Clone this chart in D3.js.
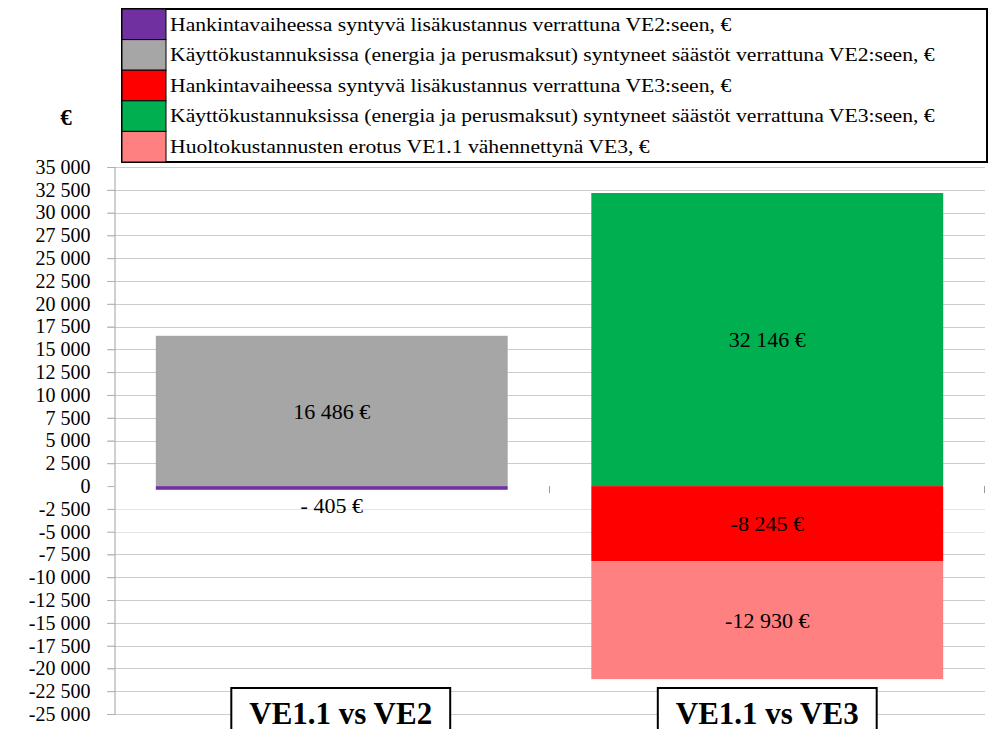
<!DOCTYPE html>
<html>
<head>
<meta charset="utf-8">
<script src="https://cdn.jsdelivr.net/npm/d3@7/dist/d3.min.js"></script>
<style>
  html, body { margin: 0; padding: 0; background: #fff; }
  svg { display: block; }
  svg text { font-family: "Liberation Serif", "Times New Roman", Times, "DejaVu Serif", serif !important; }
</style>
</head>
<body>
<svg id="chart" width="989" height="729"></svg>
<script>
// ---------------- data ----------------
const categories = ["VE1.1 vs VE2", "VE1.1 vs VE3"];
const seriesNames = [
  "Hankintavaiheessa syntyvä lisäkustannus verrattuna VE2:seen, €",
  "Käyttökustannuksissa (energia ja perusmaksut) syntyneet säästöt verrattuna VE2:seen, €",
  "Hankintavaiheessa syntyvä lisäkustannus verrattuna VE3:seen, €",
  "Käyttökustannuksissa (energia ja perusmaksut) syntyneet säästöt verrattuna VE3:seen, €",
  "Huoltokustannusten erotus VE1.1 vähennettynä VE3, €"
];
const seriesColors = ["#7030a0", "#a6a6a6", "#ff0000", "#00b050", "#ff8080"];
const hankintaVE2 = [-405, 0];
const kayttoVE2   = [16486, 0];
const hankintaVE3 = [0, -8245];
const kayttoVE3   = [0, 32146];
const huolto      = [0, -12930];
const seriesValues = [hankintaVE2, kayttoVE2, hankintaVE3, kayttoVE3, huolto];
const yTicks = d3.range(-25000, 35001, 2500);
const yUnit = "€";

// ---------------- setup ----------------
const FONT = "'Liberation Serif', 'Times New Roman', Times, 'DejaVu Serif', serif";
const svg = d3.select("#chart").attr("font-family", FONT);
const plot = { left: 114, right: 985, top: 167, bottom: 714 };

const locale = d3.formatLocale({ decimal: ",", thousands: " ", grouping: [3], currency: ["", " €"], minus: "-" });
const fmt = locale.format(",");

const x = d3.scaleBand().domain(categories).range([plot.left, plot.right])
  .paddingInner(0.192).paddingOuter(0.096);
const y = d3.scaleLinear().domain([yTicks[0], yTicks[yTicks.length - 1]]).range([plot.bottom, plot.top]);

// table for stacking
const table = categories.map((c, i) => {
  const row = { cat: c };
  seriesNames.forEach((s, k) => row[k] = seriesValues[k][i]);
  return row;
});
const stacked = d3.stack().keys(seriesNames.map((s, k) => k))
  .offset(d3.stackOffsetDiverging)(table);

// gridlines
svg.append("g").selectAll("line").data(yTicks.filter(t => t !== 0)).join("line")
  .attr("x1", plot.left - 7).attr("x2", plot.right)
  .attr("y1", d => Math.round(y(d)) + 0.5).attr("y2", d => Math.round(y(d)) + 0.5)
  .attr("stroke", d => (d === -2500 || d === -5000) ? "#e4e4e4" : "#cccccc")
  .attr("stroke-width", 1);

// y axis
const yAxis = svg.append("g").attr("transform", `translate(${plot.left + 0.5},0)`)
  .call(d3.axisLeft(y).tickValues(yTicks).tickFormat(fmt).tickSize(7).tickPadding(17));
yAxis.attr("font-family", FONT).attr("font-size", 20);
yAxis.select(".domain").attr("stroke", "#a0a0a0");
yAxis.selectAll(".tick line").attr("stroke", "#b0b0b0");
yAxis.selectAll(".tick text").attr("fill", "#000");

// category separator ticks at zero
const sepX = [plot.left + x.step(), plot.right];
svg.append("g").selectAll("line").data(sepX).join("line")
  .attr("x1", d => Math.round(d) - 0.5).attr("x2", d => Math.round(d) - 0.5)
  .attr("y1", y(0)).attr("y2", y(0) + 7)
  .attr("stroke", "#999").attr("stroke-width", 1);

// bars
const gBars = svg.append("g");
stacked.forEach((layer, k) => {
  gBars.append("g").attr("fill", seriesColors[k])
    .selectAll("rect").data(layer.filter(d => d[1] - d[0] !== 0)).join("rect")
    .attr("x", d => x(d.data.cat))
    .attr("width", x.bandwidth())
    .attr("y", d => y(d[1]))
    .attr("height", d => y(d[0]) - y(d[1]));
});

// value labels
const gLab = svg.append("g");
stacked.forEach((layer, k) => {
  layer.forEach((d, i) => {
    const v = seriesValues[k][i];
    if (v === 0) return;
    const small = Math.abs(v) < 1000;
    const txt = small ? (v < 0 ? "- " + fmt(-v) : fmt(v)) + " €" : fmt(v) + " €";
    const cy = small ? y(d[0]) + 16 : (y(d[0]) + y(d[1])) / 2;
    gLab.append("text")
      .attr("x", x(d.data.cat) + x.bandwidth() / 2)
      .attr("y", cy)
      .attr("dy", "0.35em")
      .attr("text-anchor", "middle")
      .attr("font-size", 22)
      .attr("fill", "#000")
      .text(txt);
  });
});

// category label boxes
const catOffset = [9, 0];
const gCat = svg.append("g");
categories.forEach((c, i) => {
  const cx = x(c) + x.bandwidth() / 2 + catOffset[i];
  const t = gCat.append("text")
    .attr("x", cx).attr("y", 724)
    .attr("text-anchor", "middle")
    .attr("font-size", 31).attr("font-weight", "bold").attr("fill", "#000")
    .text(c);
  const bw = t.node().getComputedTextLength() + 36;
  gCat.insert("rect", "text")
    .attr("x", cx - bw / 2).attr("y", 688)
    .attr("width", bw).attr("height", 60)
    .attr("fill", "#fff").attr("stroke", "#000").attr("stroke-width", 2);
});

// unit label
svg.append("text").attr("x", 66).attr("y", 125).attr("text-anchor", "middle")
  .attr("font-size", 23).attr("font-weight", "bold").text(yUnit);

// legend
const leg = { x: 122, y: 9, w: 865, rowH: 30.6, swW: 44 };
const gLeg = svg.append("g");
gLeg.append("rect").attr("x", leg.x).attr("y", leg.y)
  .attr("width", leg.w).attr("height", leg.rowH * seriesNames.length)
  .attr("fill", "#fff").attr("stroke", "#000").attr("stroke-width", 2);
const items = gLeg.selectAll("g.item").data(seriesNames).join("g").attr("class", "item")
  .attr("transform", (d, i) => `translate(${leg.x},${leg.y + i * leg.rowH})`);
items.append("rect").attr("x", 0).attr("y", 0).attr("width", leg.swW).attr("height", leg.rowH)
  .attr("fill", (d, i) => seriesColors[i]).attr("stroke", "#000").attr("stroke-width", 1);
const legTexts = items.append("text").attr("x", 0).attr("y", leg.rowH / 2)
  .attr("dy", "0.35em").attr("font-size", 18).attr("fill", "#000").text(d => d);
// condense horizontally to match target width of longest entry
const longest = d3.max(legTexts.nodes(), n => n.getComputedTextLength());
const sx = 765 / longest;
legTexts.attr("transform", `translate(${leg.swW + 4},0) scale(${sx},1)`);
</script>
</body>
</html>
